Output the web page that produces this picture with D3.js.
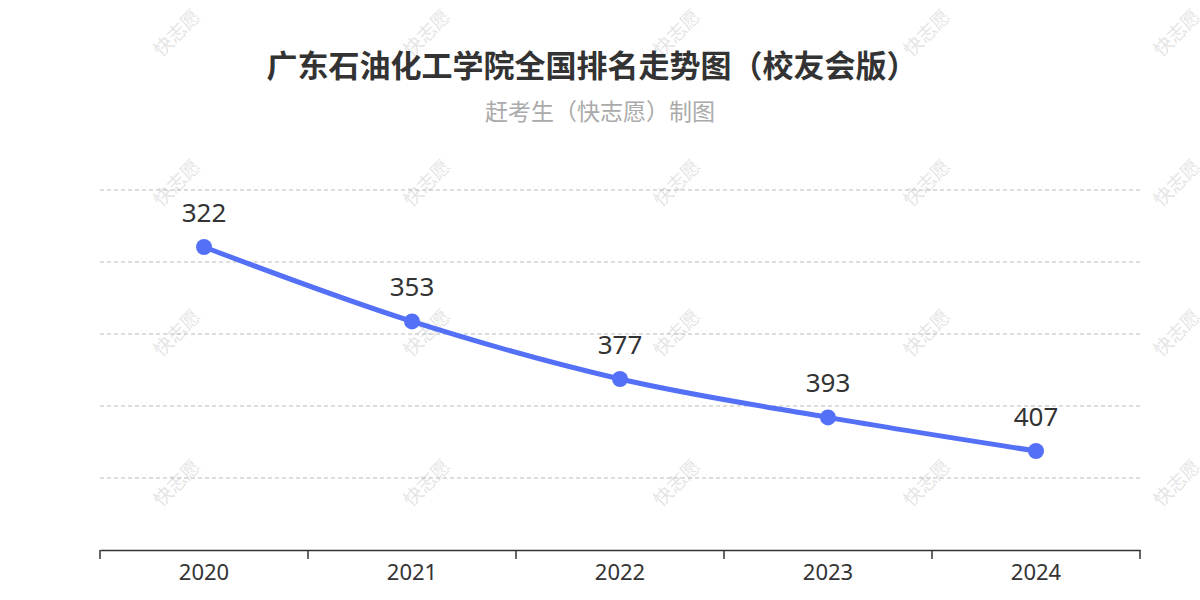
<!DOCTYPE html>
<html><head><meta charset="utf-8">
<script src="https://cdn.jsdelivr.net/npm/d3@7"></script>
<style>body{margin:0;background:#fff}svg{font-family:"Noto Sans CJK SC","Noto Sans",sans-serif}</style>
</head><body><svg id="c" width="1200" height="600"></svg>
<script>
const years = ["2020","2021","2022","2023","2024"];
const ranks = [322,353,377,393,407];
const yDomain = [298.25,448.25];
const gridCount = 5;

const svg = d3.select("#c");
const wmX=[178,428,678,928,1178], wmY=[34,184,334,484];
wmX.forEach(x=>wmY.forEach(y=>svg.append("text").attr("transform",`translate(${x},${y}) rotate(-45)`)
  .attr("text-anchor","middle").attr("dominant-baseline","middle").attr("font-size",19).attr("fill","#000").attr("opacity",0.1).text("快志愿")));

svg.append("text").attr("x",592).attr("y",77).attr("text-anchor","middle").attr("font-size",31).attr("font-weight","bold").attr("fill","#333").text("广东石油化工学院全国排名走势图（校友会版）");
svg.append("text").attr("x",600).attr("y",120).attr("text-anchor","middle").attr("font-size",23).attr("fill","#aaa").text("赶考生（快志愿）制图");

const x = d3.scaleBand().domain(years).range([100,1140]);
const y = d3.scaleLinear().domain(yDomain).range([190,550]);
const step=(yDomain[1]-yDomain[0])/gridCount;
d3.range(gridCount).forEach(i=>{
  const yy=y(yDomain[0]+i*step);
  svg.append("line").attr("x1",100).attr("x2",1140).attr("y1",yy).attr("y2",yy).attr("stroke","#bbb").attr("stroke-dasharray","4,3");
});
const ax = svg.append("g").attr("transform","translate(0,550)").call(d3.axisBottom(x).tickSize(0).tickPadding(14));
ax.select(".domain").attr("stroke","#333").attr("stroke-width",1.5);
ax.selectAll("text").attr("font-size",22).attr("fill","#333").attr("font-family","'Noto Sans',sans-serif");
x.domain().concat(["end"]).forEach((d,i)=>{
  const xx=100+i*x.bandwidth();
  svg.append("line").attr("x1",xx).attr("x2",xx).attr("y1",550).attr("y2",559).attr("stroke","#333").attr("stroke-width",1.5);
});
const pts = years.map((d,i)=>[x(d)+x.bandwidth()/2,y(ranks[i])]);
svg.append("path").attr("d",d3.line().curve(d3.curveMonotoneX)(pts)).attr("fill","none").attr("stroke","#5470f6").attr("stroke-width",5);
svg.selectAll("circle.p").data(pts).join("circle").attr("cx",d=>d[0]).attr("cy",d=>d[1]).attr("r",8).attr("fill","#5470f6");
svg.selectAll("text.l").data(pts).join("text").attr("x",d=>d[0]).attr("y",d=>d[1]-25).attr("text-anchor","middle")
  .attr("font-size",26).attr("fill","#333").attr("font-family","'Noto Sans',sans-serif").text((d,i)=>ranks[i]);
</script></body></html>
